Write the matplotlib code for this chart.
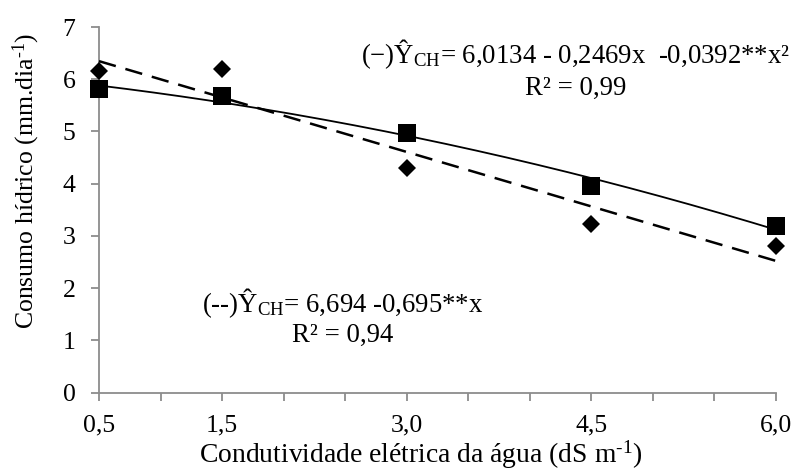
import numpy as np
import matplotlib
matplotlib.use("Agg")
import matplotlib.pyplot as plt

plt.rcParams['font.family'] = ['Liberation Serif', 'DejaVu Serif']
plt.rcParams['mathtext.fontset'] = 'custom'
plt.rcParams['mathtext.rm'] = 'Liberation Serif'
plt.rcParams['mathtext.it'] = 'Liberation Serif:italic'

# Data
ce = [0.5, 1.5, 3.0, 4.5, 6.0]
consumo_quad = [5.81, 5.68, 4.98, 3.95, 3.20]   # squares, quadratic fit (solid)
consumo_lin = [6.16, 6.20, 4.31, 3.23, 2.81]    # diamonds, linear fit (dashed)
coef_quad = [6.0134, -0.2469, -0.0392]
coef_lin = [6.694, -0.695]
xticks = [0.5, 1.0, 1.5, 2.0, 2.5, 3.0, 3.5, 4.0, 4.5, 5.0, 5.5, 6.0]
xticklabels = ['0,5', '', '1,5', '', '', '3,0', '', '', '4,5', '', '', '6,0']
yticks = [0, 1, 2, 3, 4, 5, 6, 7]

W, H = 795, 471
fig = plt.figure(figsize=(W / 100, H / 100), dpi=100)
ax = fig.add_axes([99 / W, 1 - 392.7 / H, (775.7 - 99) / W, (392.7 - 27) / H])

xs = np.linspace(ce[0], ce[-1], 200)
yq = coef_quad[0] + coef_quad[1] * xs + coef_quad[2] * xs ** 2
yl = coef_lin[0] + coef_lin[1] * xs
ax.plot(xs, yq, color='black', lw=1.3, zorder=3, clip_on=False)
ax.plot(xs, yl, color='black', lw=1.8, dashes=(7, 4), zorder=3, clip_on=False)

ax.plot(ce, consumo_quad, linestyle='none', marker='s', ms=12.3, mfc='black',
        mec='black', mew=0, zorder=5, clip_on=False)
ax.plot(ce, consumo_lin, linestyle='none', marker='D', ms=9.2, mfc='black',
        mec='black', mew=0, zorder=5, clip_on=False)

ax.set_xlim(0.5, 6.0)
ax.set_ylim(0, 7)
ax.set_xticks(xticks)
ax.set_xticklabels(xticklabels)
ax.set_yticks(yticks)
ax.set_yticklabels([str(v) for v in yticks])

gray = '#8c8c8c'
for s in ['top', 'right']:
    ax.spines[s].set_visible(False)
for s in ['left', 'bottom']:
    ax.spines[s].set_color(gray)
    ax.spines[s].set_linewidth(1.3)
ax.tick_params(axis='both', direction='out', length=6, width=1.3, color=gray,
               labelsize=18.5, labelcolor='black')
ax.tick_params(axis='y', pad=11)
ax.tick_params(axis='x', pad=10)

fig.text(421 / W, 1 - 463 / H, 'Condutividade elétrica da água (dS m$^{\\text{-1}}$)',
         ha='center', va='baseline', fontsize=19.9)
fig.text(26 / W, 1 - 181 / H, 'Consumo hídrico (mm.dia$^{\\text{-1}}$)', rotation=90,
         ha='center', va='center', fontsize=18.5)

fs = 19.3
fig.text(575.5 / W, 1 - 63 / H,
         '(−)Ŷ$_{\\mathrm{CH}}$= 6,0134 - 0,2469x  -0,0392**x²',
         ha='center', va='baseline', fontsize=fs)
fig.text(575.5 / W, 1 - 95 / H, 'R² = 0,99', ha='center', va='baseline', fontsize=fs)
fig.text(343 / W, 1 - 312 / H, '(--)Ŷ$_{\\mathrm{CH}}$= 6,694 -0,695**x',
         ha='center', va='baseline', fontsize=fs)
fig.text(343 / W, 1 - 342 / H, 'R² = 0,94', ha='center', va='baseline', fontsize=fs)

fig.savefig('out.png', dpi=100)
